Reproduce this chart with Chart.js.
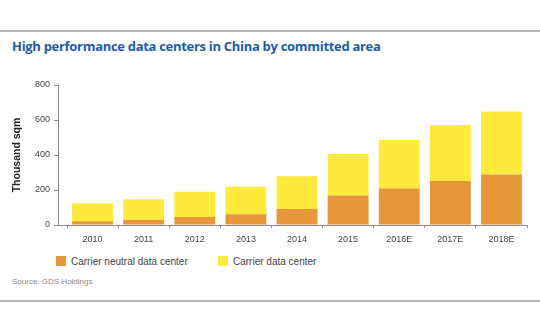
<!DOCTYPE html>
<html>
<head>
<meta charset="utf-8">
<script src="https://cdn.jsdelivr.net/npm/chart.js@4"></script>
<style>
  body { margin: 0; width: 540px; height: 334px; background: #fff; position: relative; overflow: hidden; font-family: "Liberation Sans", sans-serif; }
  .rule { position: absolute; left: 0; width: 540px; height: 2px; background: #b4b4b4; }
  #title { position: absolute; left: 12px; top: 37px; font-family: "Open Sans", sans-serif; font-weight: bold; font-size: 13px; color: #1d5ba6; letter-spacing: -0.3px; }
  #wrap { position: absolute; left: 0; top: 60px; width: 540px; height: 195px; }
  #legend { position: absolute; top: 256px; left: 56px; font-size: 10px; color: #444; }
  #legend span.item { position: absolute; white-space: nowrap; }
  #legend i { display: inline-block; width: 10px; height: 10px; vertical-align: -1px; margin-right: 5px; }
  #source { position: absolute; left: 12px; top: 277px; font-size: 8px; color: #888; }
</style>
</head>
<body>
<div class="rule" style="top:30px"></div>
<div id="title">High performance data centers in China by committed area</div>
<div id="wrap"><canvas id="chart"></canvas></div>
<div id="legend"></div>
<div id="source">Source: GDS Holdings</div>
<div class="rule" style="top:300px"></div>
<script>
const years = ["2010", "2011", "2012", "2013", "2014", "2015", "2016E", "2017E", "2018E"];
const carrierNeutral = [22, 30, 46, 61, 91, 168, 209, 251, 289];
const carrier = [102, 117, 144, 158, 187, 238, 277, 320, 359];
const seriesNames = ["Carrier neutral data center", "Carrier data center"];
const seriesColors = ["#e8963a", "#fdea3c"];
const yTicks = [0, 200, 400, 600, 800];

// x axis baseline runs from the y axis line, past the small gap before the first bar
const baseline = {
  id: "baseline",
  afterDatasetsDraw(chart) {
    const ctx = chart.ctx;
    const y = chart.scales.y.getPixelForValue(0);
    ctx.save();
    ctx.strokeStyle = "#8c8c8c";
    ctx.lineWidth = 1;
    ctx.beginPath();
    ctx.moveTo(chart.scales.y.right, y + 0.5);
    ctx.lineTo(chart.chartArea.right, y + 0.5);
    ctx.stroke();
    ctx.restore();
  },
};

new Chart(document.getElementById("chart"), {
  type: "bar",
  data: {
    labels: years,
    datasets: [
      { label: seriesNames[0], data: carrierNeutral, backgroundColor: seriesColors[0] },
      { label: seriesNames[1], data: carrier, backgroundColor: seriesColors[1] },
    ],
  },
  options: {
    responsive: true,
    maintainAspectRatio: false,
    animation: false,
    categoryPercentage: 1,
    barPercentage: 0.8,
    layout: { padding: { top: 25, right: 13, bottom: 0, left: 0 } },
    plugins: { legend: { display: false }, tooltip: { enabled: false } },
    scales: {
      x: {
        stacked: true,
        grid: { drawOnChartArea: false, tickLength: 3, color: "#8c8c8c" },
        border: { display: false },
        ticks: { color: "#444", font: { family: "Liberation Sans", size: 9 }, padding: 6 },
        afterFit: (s) => { s.height = 30; },
      },
      y: {
        stacked: true,
        min: 0,
        max: 800,
        weight: 1,
        afterBuildTicks: (s) => { s.ticks = yTicks.map((v) => ({ value: v })); },
        grid: { drawOnChartArea: false, tickLength: 4, color: "#8c8c8c" },
        border: { color: "#8c8c8c" },
        ticks: { color: "#444", font: { family: "Liberation Sans", size: 9 }, padding: 4 },
        title: { display: true, text: "Thousand sqm", color: "#222", font: { family: "Liberation Sans", size: 10.5, weight: "bold" }, padding: { top: 11, bottom: 0 } },
        afterFit: (s) => { s.width = 58; },
      },
      gap: {
        position: "left",
        weight: 0,
        grid: { display: false },
        border: { display: false },
        ticks: { display: false },
        afterFit: (s) => { s.width = 9; },
      },
    },
  },
  plugins: [baseline],
});

const legend = document.getElementById("legend");
const legendX = [0, 162];
seriesNames.forEach((name, i) => {
  const item = document.createElement("span");
  item.className = "item";
  item.style.left = legendX[i] + "px";
  item.innerHTML = '<i style="background:' + seriesColors[i] + '"></i>' + name;
  legend.appendChild(item);
});
</script>
</body>
</html>
